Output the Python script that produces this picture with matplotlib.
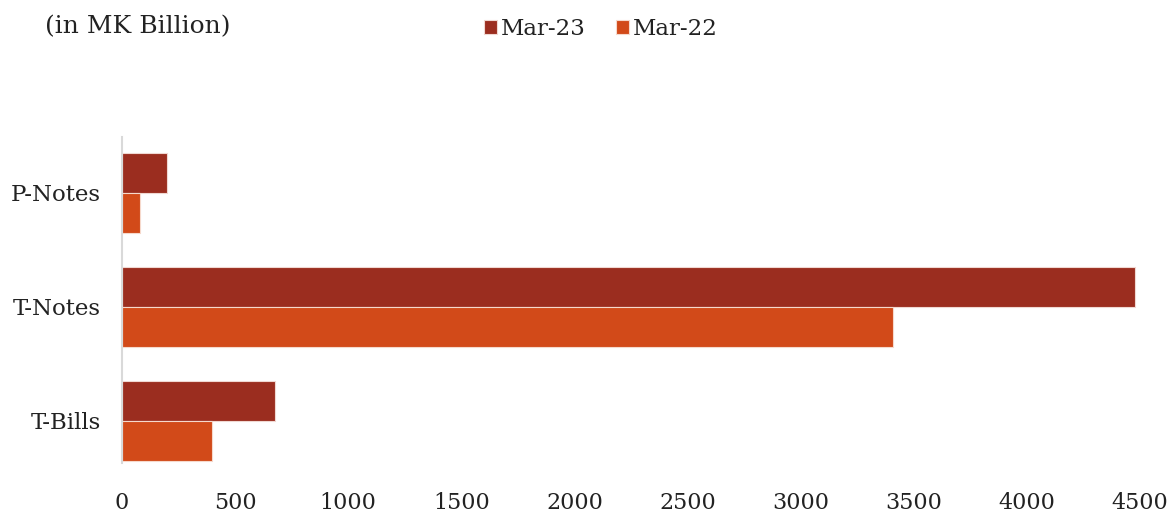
import matplotlib.pyplot as plt
import numpy as np

# data
categories = ['T-Bills', 'T-Notes', 'P-Notes']
mar23 = [676, 4478, 200]
mar22 = [398, 3408, 80]
x_ticks = [0, 500, 1000, 1500, 2000, 2500, 3000, 3500, 4000, 4500]

c23 = '#9B2D1F'
c22 = '#D24A19'

plt.rcParams['font.family'] = ['DejaVu Serif']

fig = plt.figure(figsize=(11.71, 5.17), dpi=100)
ax = fig.add_axes([122 / 1171, 1 - 463 / 517, (1140 - 122) / 1171, (463 - 137) / 517])

y = np.arange(len(categories))
h = 0.35
ax.barh(y + h / 2, mar23, height=h, color=c23, edgecolor='#F0D8D2', linewidth=0.8, label='Mar-23')
ax.barh(y - h / 2, mar22, height=h, color=c22, edgecolor='#F6D9CC', linewidth=0.8, label='Mar-22')

ax.set_xlim(0, 4500)
ax.set_ylim(-0.37, 2.49)
ax.set_xticks(x_ticks)
ax.set_xticklabels([str(v) for v in x_ticks], fontsize=16)
ax.set_yticks(y)
ax.set_yticklabels(categories, fontsize=16.5)
ax.tick_params(axis='both', length=0, colors='#222222')
ax.tick_params(axis='x', pad=21)
ax.tick_params(axis='y', pad=15)

for s in ['top', 'right', 'bottom']:
    ax.spines[s].set_visible(False)
ax.spines['left'].set_color('#D9D9D9')
ax.spines['left'].set_linewidth(1.5)

fig.text(45 / 1171, 1 - 27 / 517, '(in MK Billion)', fontsize=18, va='center', ha='left', color='#222222')

leg = fig.legend(loc='center', bbox_to_anchor=(601 / 1171, 1 - 29 / 517), ncol=2, frameon=False,
                 fontsize=16.5, handlelength=0.55, handleheight=0.55, handletextpad=0.2, columnspacing=1.3)
for t in leg.get_texts():
    t.set_color('#222222')

fig.savefig('out.png', dpi=100)
